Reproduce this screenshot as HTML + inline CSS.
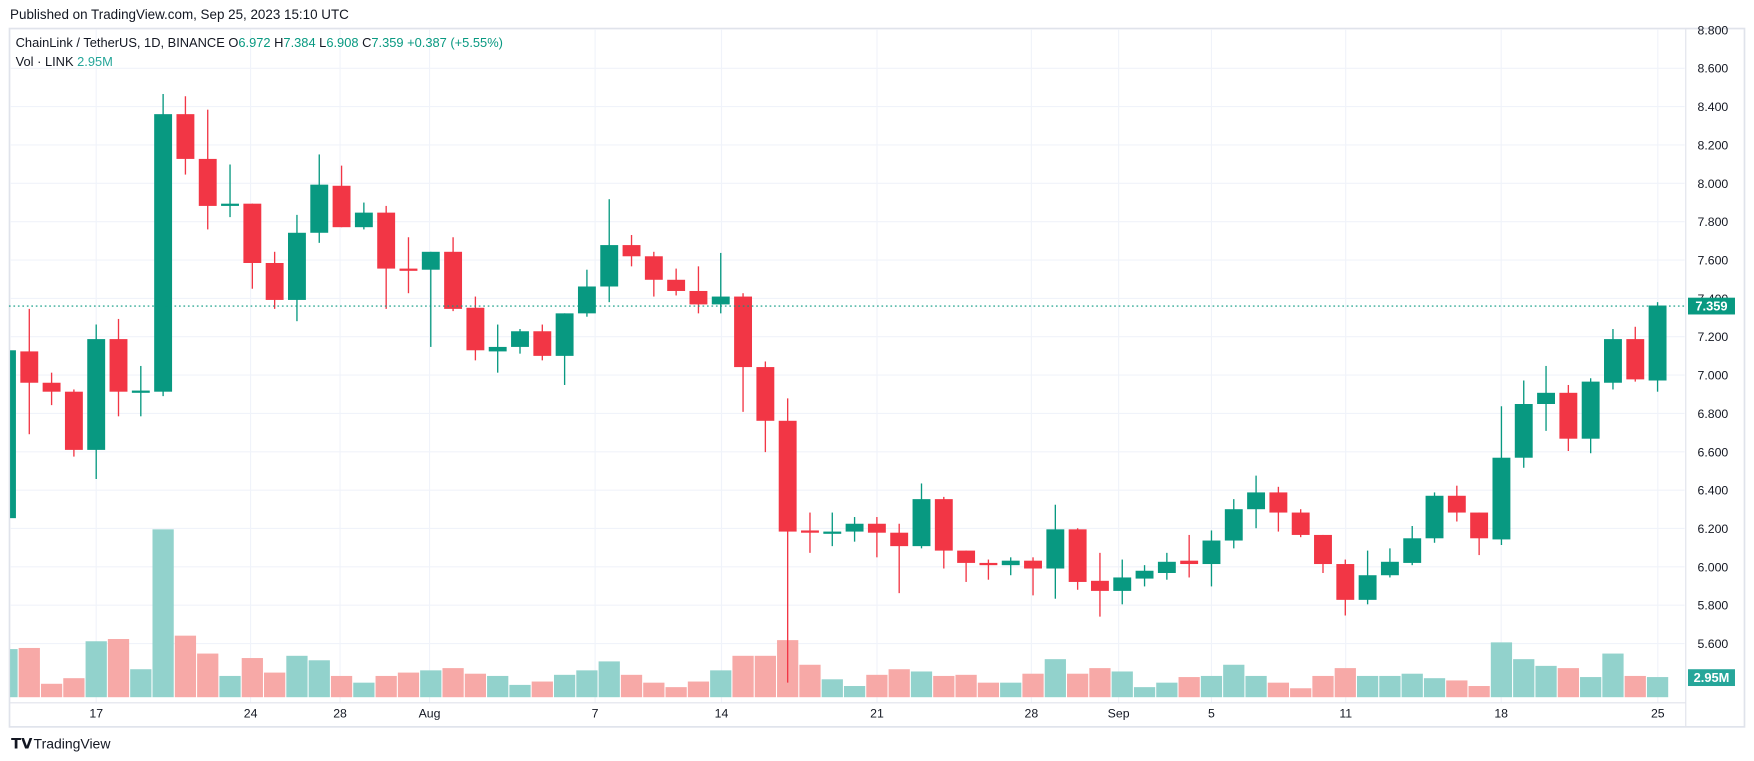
<!DOCTYPE html>
<html><head><meta charset="utf-8"><style>
html,body{margin:0;padding:0;background:#fff;overflow:hidden}
svg{display:block}
text{font-family:"Liberation Sans","DejaVu Sans",sans-serif}
</style></head><body>
<svg id="s" width="1754" height="761" viewBox="0 0 1568 680" preserveAspectRatio="none" xmlns="http://www.w3.org/2000/svg">
<rect x="0" y="0" width="1568" height="680" fill="#fff"/>
<text x="9" y="17" font-size="12" fill="#131722">Published on TradingView.com, Sep 25, 2023 15:10 UTC</text>
<rect x="8.5" y="25.5" width="1551" height="624" fill="#fff" stroke="#e0e3eb" stroke-width="1.5"/>
<g id="grid"></g>
<g id="vol"></g>
<g id="cdl"></g>
<line x1="8" y1="273.5" x2="1508" y2="273.5" stroke="#089981" stroke-dasharray="1.5,2.5" stroke-width="1"/>
<g id="ax"></g>
<text x="14" y="42" font-size="11.5" fill="#131722">ChainLink / TetherUS, 1D, BINANCE  <tspan>O</tspan><tspan fill="#089981">6.972</tspan>  H<tspan fill="#089981">7.384</tspan>  L<tspan fill="#089981">6.908</tspan>  C<tspan fill="#089981">7.359</tspan>  <tspan fill="#089981">+0.387 (+5.55%)</tspan></text>
<text x="14" y="59" font-size="11.5" fill="#131722">Vol · LINK  <tspan fill="#26a69a">2.95M</tspan></text>
<rect x="1509" y="266" width="42" height="15" fill="#089981"/>
<text x="1530" y="277.5" font-size="11.5" font-weight="bold" fill="#fff" text-anchor="middle">7.359</text>
<rect x="1509" y="598" width="42" height="15" fill="#26a69a"/>
<text x="1530" y="609.5" font-size="11.5" font-weight="bold" fill="#fff" text-anchor="middle">2.95M</text>
<text x="10" y="669" font-size="13" font-weight="bold" fill="#131722">𝗧𝗩</text>
<text x="30" y="669" font-size="12.5" fill="#131722">TradingView</text>
</svg>
<script>
var NS="http://www.w3.org/2000/svg";
function el(p,t,a,txt){var e=document.createElementNS(NS,t);for(var k in a)e.setAttribute(k,a[k]);if(txt!=null)e.textContent=txt;document.getElementById(p).appendChild(e);return e;}
// grid
for(var i=0;i<=16;i++){var p=8.8-i*0.2;var y=61+(8.6-p)/0.2*34.27;
 if(y>30&&y<648) el("grid","line",{x1:9,x2:1506,y1:y,y2:y,stroke:"#f0f3fa","stroke-width":1});
 el("ax","text",{x:1545,y:y+4,"font-size":11,fill:"#131722","text-anchor":"end"},p.toFixed(3));}
var dl=[[86,"17"],[224,"24"],[304,"28"],[384,"Aug"],[532,"7"],[645,"14"],[784,"21"],[922,"28"],[1000,"Sep"],[1083,"5"],[1203,"11"],[1342,"18"],[1482,"25"]];
dl.forEach(function(d){el("grid","line",{x1:d[0],x2:d[0],y1:26,y2:628,stroke:"#f0f3fa","stroke-width":1});
 el("ax","text",{x:d[0],y:641,"font-size":11,fill:"#131722","text-anchor":"middle"},d[1]);});
el("grid","line",{x1:1507,x2:1507,y1:26,y2:649,stroke:"#e0e3eb"});
el("grid","line",{x1:9,x2:1507,y1:628,y2:628,stroke:"#e0e3eb"});
var C=[
["G",313,463,313,463],["R",314,342,276,388],["R",342,350,333,362],["R",350,402,348,408],["G",303,402,290,428],["R",303,350,285,372],["G",349,351,327,372],["G",102,350,84,354],["R",102,142,86,156],["R",142,184,98,205],["G",182,184,147,194],["R",182,235,182,258],["R",235,268,225,276],["G",208,268,192,287],["G",165,208,138,217],["R",166,203,148,203],["G",190,203,181,205],["R",190,240,184,276],["R",240,242,212,262],["G",225,241,225,310],["R",225,276,212,278],["R",275,313,265,322],["G",310,314,290,333],["G",296,310,294,316],["R",296,318,290,322],["G",280,318,280,344],["G",256,280,241,283],["G",219,256,178,270],["R",219,229,210,238],["R",229,250,225,265],["R",250,260,240,264],["R",260,272,238,280],["G",265,272,226,280],["R",265,328,262,368],["R",328,376,323,404],["R",376,475,356,610],["R",474,476,458,494],["G",475,477,458,488],["G",468,475,462,484],["R",468,476,462,498],["R",476,488,468,530],["G",446,488,432,490],["R",446,492,444,508],["R",492,503,492,520],["R",503,505,500,518],["G",501,505,498,514],["R",501,508,498,532],["G",473,508,451,535],["R",473,520,472,527],["R",519,528,494,551],["G",516,528,500,540],["G",510,517,505,524],["G",502,512,494,518],["R",501,504,478,516],["G",483,504,474,524],["G",455,483,446,490],["G",440,455,425,472],["R",440,458,435,475],["R",458,478,455,480],["R",478,504,478,512],["R",504,536,500,550],["G",514,536,492,540],["G",502,514,490,516],["G",481,503,470,505],["G",443,481,440,485],["R",443,458,434,466],["R",458,481,458,496],["G",409,482,363,487],["G",361,409,340,418],["G",351,361,327,385],["R",351,392,344,403],["G",341,392,338,405],["G",303,342,294,348],["R",303,339,292,341],["G",273,340,270,350]];
var V=[580,579,611,606,573,571,598,473,568,584,604,588,601,586,590,604,610,604,601,599,597,602,604,612,609,603,599,591,603,610,614,609,599,586,586,572,594,607,613,603,598,600,604,603,610,610,602,589,602,597,600,614,610,605,604,594,604,610,615,604,597,604,604,602,606,608,613,574,589,595,597,605,584,604,605];
for(var i=0;i<C.length;i++){var d=i-4;var x=86+d*19.94;var c=C[i];var col=c[0]=="G"?"#089981":"#f23645";
 var vc=c[0]=="G"?"#92d2cc":"#f7a9a7";
 var vx=Math.max(9,x-9.5);var vw=Math.min(x+9.5,1506)-vx;
 el("vol","rect",{x:vx,y:V[i],width:vw,height:623-V[i],fill:vc});
 if(x>8) el("cdl","line",{x1:x,x2:x,y1:c[3],y2:c[4],stroke:col,"stroke-width":1.2});
 var bx=Math.max(9,x-8),bw=Math.min(x+8,1506)-bx;
 el("cdl","rect",{x:bx,y:c[1],width:bw,height:Math.max(1.5,c[2]-c[1]),fill:col});}
</script>
</body></html>
